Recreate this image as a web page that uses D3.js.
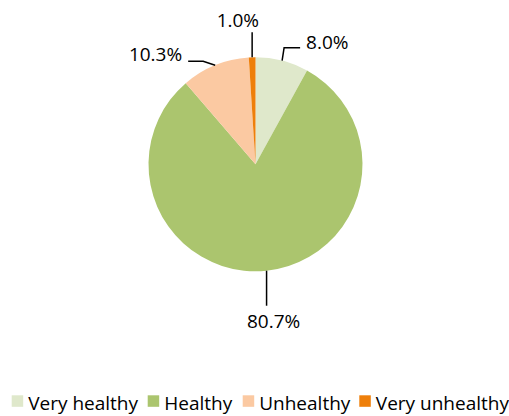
<!doctype html>
<html lang="en">
<head>
	<meta charset="UTF-8">
	<title>health pie | d3</title>
	<style>
		body { margin: 0; background: #fff; }
		svg { display: block; }
		.label, .legend-text {
			font-family: "Open Sans", sans-serif;
			fill: #000;
		}
		.label { font-size: 19px; }
		.legend-text { font-size: 19px; }
		.leader { fill: none; stroke: #000; stroke-width: 1.5; }
	</style>
</head>
<body>
	<script src="https://cdn.jsdelivr.net/npm/d3@7"></script>
	<script>
		// data
		var categories = ['Very healthy', 'Healthy', 'Unhealthy', 'Very unhealthy'],
			values = [8.0, 80.7, 10.3, 1.0],
			colors = ['#dfe8cb', '#abc56e', '#fbc9a2', '#ee7f0a'];

		var w = 509,
			h = 416,
			cx = 255.5,
			cy = 164.3,
			r = 107;

		// leader elbow / end and text placement, relative to the edge point
		var leaders = [
			{ elbow: [2, -13], end: [18, -13], tx: 24, ty: -12, anchor: 'start' },
			{ elbow: [0, 35], end: [0, 35], tx: 7, ty: 57.5, anchor: 'middle' },
			{ elbow: [-12, -4], end: [-27, -4], tx: -33, ty: -4.5, anchor: 'end' },
			{ elbow: [0, -25], end: [0, -25], tx: -35.5, ty: -30, anchor: 'start' }
		];

		var svg = d3.select('body')
			.append('svg')
			.attr('width', w)
			.attr('height', h);

		var pie = d3.pie().sort(null).value(function(d) { return d; });
		var arcs = pie(values);

		var arc = d3.arc().innerRadius(0).outerRadius(r);
		var edge = d3.arc().innerRadius(r).outerRadius(r);

		var g = svg.append('g').attr('transform', 'translate(' + cx + ',' + cy + ')');

		g.selectAll('path.slice')
			.data(arcs)
			.enter()
			.append('path')
			.attr('class', 'slice')
			.attr('d', arc)
			.attr('fill', function(d, i) { return colors[i]; });

		// leaders + labels
		arcs.forEach(function(d, i) {
			var p = edge.centroid(d),
				l = leaders[i];
			g.append('polyline')
				.attr('class', 'leader')
				.attr('points', [p, [p[0] + l.elbow[0], p[1] + l.elbow[1]], [p[0] + l.end[0], p[1] + l.end[1]]]
					.map(function(q) { return q.join(','); }).join(' '));
			g.append('text')
				.attr('class', 'label')
				.attr('x', p[0] + l.tx)
				.attr('y', p[1] + l.ty)
				.attr('text-anchor', l.anchor)
				.text(d3.format('.1f')(values[i]) + '%');
		});

		// legend
		var legendX = [11.7, 147.7, 242.7, 359.3],
			legend = svg.append('g');

		var items = legend.selectAll('g')
			.data(categories)
			.enter()
			.append('g')
			.attr('transform', function(d, i) { return 'translate(' + legendX[i] + ',395.3)'; });

		items.append('rect')
			.attr('width', 11.5)
			.attr('height', 11.5)
			.attr('fill', function(d, i) { return colors[i]; });

		items.append('text')
			.attr('class', 'legend-text')
			.attr('x', 16.5)
			.attr('y', 15)
			.text(function(d) { return d; });
	</script>
</body>
</html>
